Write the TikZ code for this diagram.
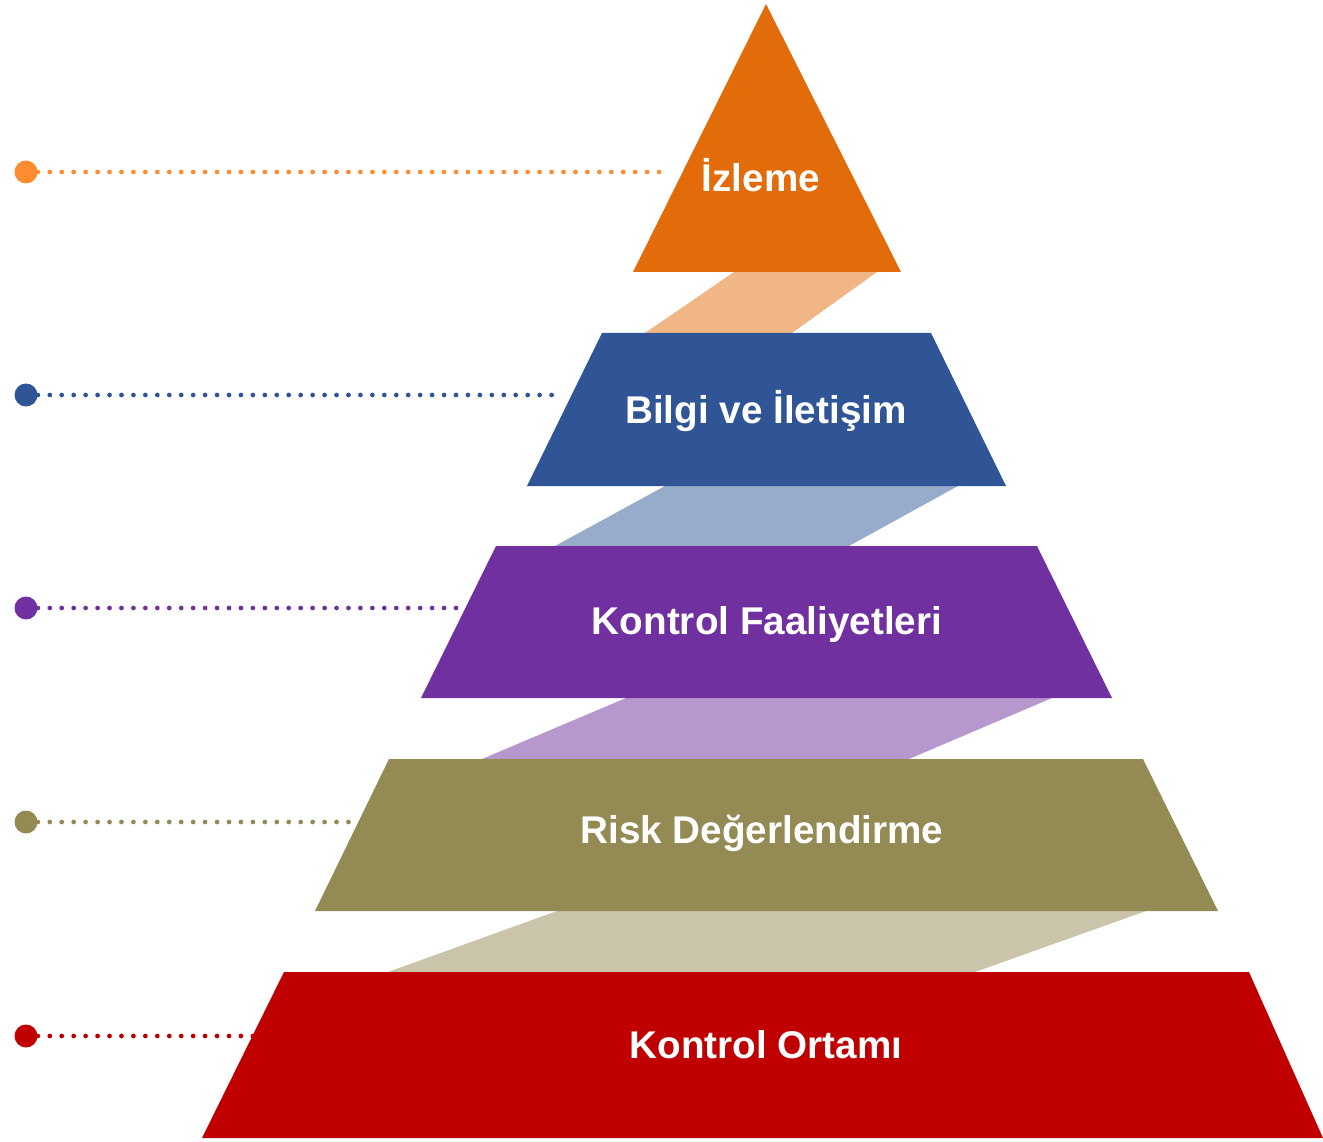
\documentclass[tikz,border=0pt]{standalone}
\usepackage{fontspec}
\setmainfont{Liberation Sans}
\usetikzlibrary{positioning}

\definecolor{izorange}{HTML}{E26B0A}
\definecolor{izlight}{HTML}{F0B686}
\definecolor{izdot}{HTML}{FF8C30}
\definecolor{bgblue}{HTML}{2F5597}
\definecolor{bglight}{HTML}{97ABCB}
\definecolor{kfpurple}{HTML}{7030A0}
\definecolor{kflight}{HTML}{B698CE}
\definecolor{rdolive}{HTML}{948A54}
\definecolor{rdlight}{HTML}{C9C4AA}
\definecolor{kored}{HTML}{C00000}

\tikzset{
  leveltext/.style={font=\fontsize{22}{26}\selectfont\bfseries,text=white,anchor=base,inner sep=0pt},
  leaddot/.style={circle,fill=#1,minimum size=23*0.02cm,inner sep=0pt},
  leadline/.style={#1,line width=2.7pt,line cap=round,dash pattern=on 0pt off 6.8pt}
}

\begin{document}
\begin{tikzpicture}[x=0.02cm,y=-0.02cm]
\useasboundingbox (0,0) rectangle (1323,1142);

% leader lines
\node[leaddot=izdot] (d1) at (26,172) {};
\node[leaddot=bgblue] (d2) at (26,395) {};
\node[leaddot=kfpurple] (d3) at (26,608) {};
\node[leaddot=rdolive] (d4) at (26,822) {};
\node[leaddot=kored] (d5) at (26,1036) {};
\coordinate (e1) at (662,172);
\coordinate (e2) at (555,395);
\coordinate (e3) at (460,608);
\coordinate (e4) at (352,822);
\coordinate (e5) at (262,1036);
\draw[leadline=izdot] (d1.east) -- (e1);
\draw[leadline=bgblue] (d2.east) -- (e2);
\draw[leadline=kfpurple] (d3.east) -- (e3);
\draw[leadline=rdolive] (d4.east) -- (e4);
\draw[leadline=kored] (d5.east) -- (e5);

% steps between levels
\fill[izlight] (734,272) -- (877,272) -- (792,333) -- (645,333) -- cycle;
\fill[bglight] (665,486) -- (958,486) -- (849,546) -- (555,546) -- cycle;
\fill[kflight] (626,698) -- (1052,698) -- (909,759) -- (482,759) -- cycle;
\fill[rdlight] (557,911) -- (1146,911) -- (975,972) -- (388,972) -- cycle;

% levels
\fill[izorange] (766,4) -- (901,272) -- (633,272) -- cycle;
\fill[bgblue] (602,333) -- (931,333) -- (1006,486) -- (527,486) -- cycle;
\fill[kfpurple] (496,546) -- (1037,546) -- (1112,698) -- (421,698) -- cycle;
\fill[rdolive] (389,759) -- (1143,759) -- (1218,911) -- (315,911) -- cycle;
\fill[kored] (284,972) -- (1249,972) -- (1323,1138) -- (202,1138) -- cycle;

\node[leveltext] (t1) at (761,192) {İzleme};
\node[leveltext] (t2) at (766,423) {Bilgi ve İletişim};
\node[leveltext] (t3) at (767,634) {Kontrol Faaliyetleri};
\node[leveltext] (t4) at (762,843) {Risk Değerlendirme};
\node[leveltext] (t5) at (766,1058) {Kontrol Ortamı};

\end{tikzpicture}
\end{document}
